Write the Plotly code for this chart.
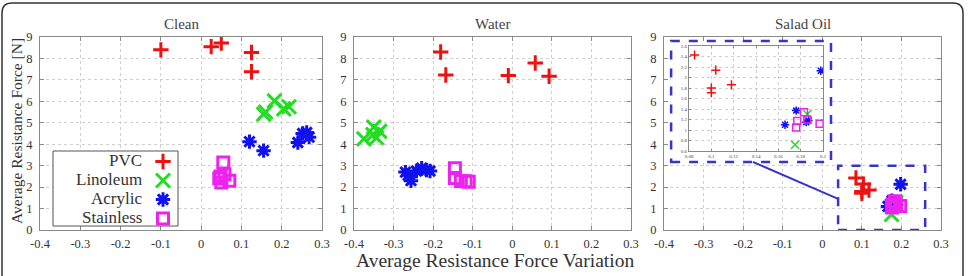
import plotly.graph_objects as go

# ---------------- data ----------------
series_names = ["PVC", "Linoleum", "Acrylic", "Stainless"]
panel_titles = ["Clean", "Water", "Salad Oil"]
x_title = "Average Resistance Force Variation"
y_title = "Average Resistance Force [N]"
x_ticks = [-0.4, -0.3, -0.2, -0.1, 0, 0.1, 0.2, 0.3]
x_tick_labels = ["-0.4", "-0.3", "-0.2", "-0.1", "0", "0.1", "0.2", "0.3"]
y_ticks = [0, 1, 2, 3, 4, 5, 6, 7, 8, 9]
inset_x_ticks = [0.08, 0.1, 0.12, 0.14, 0.16, 0.18, 0.2]
inset_x_tick_labels = ["0.08", "0.1", "0.12", "0.14", "0.16", "0.18", "0.2"]
inset_y_ticks = [0.6, 0.8, 1.0, 1.2, 1.4, 1.6, 1.8, 2.0, 2.2, 2.4, 2.6]
inset_y_tick_labels = ["0.6", "0.8", "1", "1.2", "1.4", "1.6", "1.8", "2", "2.2", "2.4", "2.6"]

clean_pvc_x = [-0.1, 0.025, 0.05, 0.125, 0.125]
clean_pvc_y = [8.4, 8.55, 8.72, 8.28, 7.38]
clean_lino_x = [0.155, 0.16, 0.182, 0.205, 0.218]
clean_lino_y = [5.4, 5.5, 6.02, 5.65, 5.75]
clean_acr_x = [0.12, 0.155, 0.24, 0.252, 0.262, 0.268]
clean_acr_y = [4.12, 3.7, 4.08, 4.5, 4.55, 4.33]
clean_sta_x = [0.055, 0.048, 0.05, 0.058, 0.07, 0.045]
clean_sta_y = [3.15, 2.5, 2.22, 2.6, 2.3, 2.4]

water_pvc_x = [-0.181, -0.168, -0.01, 0.058, 0.093]
water_pvc_y = [8.3, 7.23, 7.2, 7.79, 7.17]
water_lino_x = [-0.375, -0.35, -0.352, -0.335, -0.343]
water_lino_y = [4.25, 4.8, 4.45, 4.6, 4.3]
water_acr_x = [-0.27, -0.263, -0.256, -0.242, -0.229, -0.217, -0.208]
water_acr_y = [2.7, 2.55, 2.3, 2.75, 2.88, 2.8, 2.75]
water_sta_x = [-0.145, -0.145, -0.13, -0.118, -0.11]
water_sta_y = [2.88, 2.42, 2.28, 2.27, 2.25]

oil_pvc_x = [0.085, 0.104, 0.1, 0.1, 0.118]
oil_pvc_y = [2.43, 2.14, 1.8, 1.71, 1.86]
oil_lino_x = [0.175, 0.186]
oil_lino_y = [0.72, 1.3]
oil_acr_x = [0.166, 0.176, 0.185, 0.187, 0.198]
oil_acr_y = [1.1, 1.37, 1.15, 1.18, 2.13]
oil_sta_x = [0.176, 0.177, 0.183, 0.186, 0.197]
oil_sta_y = [1.05, 1.17, 1.34, 1.2, 1.12]

# zoom region (data coords of Salad Oil panel) and inset box
zoom_box = dict(x0=0.04, x1=0.26, y0=0.0, y1=3.0)
inset_box = dict(x0=-0.382, x1=0.022, y0=3.17, y1=8.81)
connector = dict(x0=-0.175, y0=3.17, x1=0.04, y1=1.45)

# ---------------- styles ----------------
W, H = 969, 276
ML, MR, MT, MB = 40, 28, 37, 46
PW, PH = W - ML - MR, H - MT - MB
FONT = "Liberation Serif, Times New Roman, serif"
colors = ["#ee1111", "#22dd22", "#1111ee", "#ee22ee"]
symbols = ["cross-thin", "x-thin", "asterisk", "square-open"]
sizes = [11, 14, 12, 11]
inset_sizes = [6.5, 8, 7, 7]
GRID = "#cfcfcf"
AX = "#8a8a8a"
BOXC = "#3535c8"


def px2paper_x(px):
    return (px - ML) / PW


def px2paper_y(py):
    return (H - MB - py) / PH


panels = [
    [(clean_pvc_x, clean_pvc_y), (clean_lino_x, clean_lino_y),
     (clean_acr_x, clean_acr_y), (clean_sta_x, clean_sta_y)],
    [(water_pvc_x, water_pvc_y), (water_lino_x, water_lino_y),
     (water_acr_x, water_acr_y), (water_sta_x, water_sta_y)],
    [(oil_pvc_x, oil_pvc_y), (oil_lino_x, oil_lino_y),
     (oil_acr_x, oil_acr_y), (oil_sta_x, oil_sta_y)],
]
domains = [(40, 322), (354, 631), (664, 941)]

fig = go.Figure()

for p, data in enumerate(panels):
    sfx = "" if p == 0 else str(p + 1)
    for i, (xs, ys) in enumerate(data):
        fig.add_trace(go.Scatter(
            x=xs, y=ys, mode="markers", name=series_names[i],
            showlegend=(p == 0),
            xaxis="x" + sfx, yaxis="y" + sfx,
            marker=dict(symbol=symbols[i], size=sizes[i], color=colors[i],
                        line=dict(width=3, color=colors[i])),
        ))

# inset traces (Salad Oil data, zoomed)
for i, (xs, ys) in enumerate(panels[2]):
    fig.add_trace(go.Scatter(
        x=xs, y=ys, mode="markers", showlegend=False,
        xaxis="x4", yaxis="y4",
        marker=dict(symbol=symbols[i], size=inset_sizes[i], color=colors[i],
                    line=dict(width=1.5, color=colors[i])),
    ))

axis_common = dict(showgrid=True, gridcolor=GRID, griddash="dot", gridwidth=1,
                   showline=True, linecolor=AX, linewidth=1, mirror="ticks",
                   ticks="inside", ticklen=4, tickcolor=AX, zeroline=False,
                   tickfont=dict(family=FONT, size=12.5, color="#333"))

layout = dict(width=W, height=H, margin=dict(l=ML, r=MR, t=MT, b=MB),
              paper_bgcolor="white", plot_bgcolor="white",
              font=dict(family=FONT, color="#333"))

for p, (a, b) in enumerate(domains):
    sfx = "" if p == 0 else str(p + 1)
    dom = [px2paper_x(a), px2paper_x(b)]
    layout["xaxis" + sfx] = dict(axis_common, domain=dom, range=[-0.4, 0.3],
                                 tickvals=x_ticks, ticktext=x_tick_labels,
                                 anchor="y" + sfx, ticklabelstandoff=2)
    layout["yaxis" + sfx] = dict(axis_common, domain=[0, 1], range=[0, 9],
                                 tickvals=y_ticks, anchor="x" + sfx,
                                 ticklabelstandoff=4)

# inset axes
inset_common = dict(axis_common)
inset_common.update(tickfont=dict(family=FONT, size=5, color="#444"), ticklen=2)
layout["xaxis4"] = dict(inset_common, domain=[px2paper_x(689), px2paper_x(823)],
                        range=[0.08, 0.2], tickvals=inset_x_ticks,
                        ticktext=inset_x_tick_labels, anchor="y4")
layout["yaxis4"] = dict(inset_common, domain=[px2paper_y(151), px2paper_y(46)],
                        range=[0.6, 2.6], tickvals=inset_y_ticks,
                        ticktext=inset_y_tick_labels, anchor="x4")

# legend: symbols only (gnuplot style, text drawn right-aligned to their left)
LEG_L, LEG_R, LEG_T, LEG_B = 53, 178, 151, 226
layout["legend"] = dict(x=px2paper_x(143), y=px2paper_y(147), xanchor="left",
                        yanchor="top", bgcolor="rgba(0,0,0,0)",
                        borderwidth=0, font=dict(family=FONT, size=1,
                                                 color="rgba(0,0,0,0)"),
                        tracegroupgap=0, itemwidth=30)

annotations = []
for p, (a, b) in enumerate(domains):
    annotations.append(dict(text=panel_titles[p], xref="paper", yref="paper",
                            x=px2paper_x((a + b) / 2), y=px2paper_y(24),
                            showarrow=False, xanchor="center", yanchor="middle",
                            font=dict(family=FONT, size=15, color="#444")))
annotations.append(dict(text=y_title, xref="paper", yref="paper",
                        x=px2paper_x(16), y=px2paper_y(131), textangle=-90,
                        showarrow=False, xanchor="center", yanchor="middle",
                        font=dict(family=FONT, size=15.5, color="#333")))
annotations.append(dict(text=x_title, xref="paper", yref="paper",
                        x=px2paper_x(495), y=px2paper_y(260),
                        showarrow=False, xanchor="center", yanchor="middle",
                        font=dict(family=FONT, size=19.5, color="#333")))
row_y = [160, 179, 198, 217]
for i, name in enumerate(series_names):
    annotations.append(dict(text=name, xref="paper", yref="paper",
                            x=px2paper_x(144), y=px2paper_y(row_y[i]),
                            showarrow=False, xanchor="right", yanchor="middle",
                            font=dict(family=FONT, size=17, color="#333")))
layout["annotations"] = annotations

shapes = []
# white backing for inset box (hides Salad Oil grid)
shapes.append(dict(type="rect", xref="x3", yref="y3", layer="between",
                   fillcolor="white", line=dict(width=0), **inset_box))
shapes.append(dict(type="rect", xref="x3", yref="y3", layer="above",
                   line=dict(color=BOXC, width=2.5, dash="dash"), **inset_box))
shapes.append(dict(type="rect", xref="x3", yref="y3", layer="above",
                   line=dict(color=BOXC, width=2.5, dash="dash"), **zoom_box))
shapes.append(dict(type="line", xref="x3", yref="y3", layer="above",
                   line=dict(color=BOXC, width=2), **connector))
# legend box
shapes.append(dict(type="rect", xref="paper", yref="paper", layer="above",
                   x0=px2paper_x(LEG_L), x1=px2paper_x(LEG_R),
                   y0=px2paper_y(LEG_B), y1=px2paper_y(LEG_T),
                   fillcolor="white", line=dict(color="#555", width=1)))

# rounded outer frame
L, R, T, B, rad = 2, 963, 3, 300, 10
path = (f"M {px2paper_x(L)},{px2paper_y(B)} "
        f"L {px2paper_x(L)},{px2paper_y(T + rad)} "
        f"Q {px2paper_x(L)},{px2paper_y(T)} {px2paper_x(L + rad)},{px2paper_y(T)} "
        f"L {px2paper_x(R - rad)},{px2paper_y(T)} "
        f"Q {px2paper_x(R)},{px2paper_y(T)} {px2paper_x(R)},{px2paper_y(T + rad)} "
        f"L {px2paper_x(R)},{px2paper_y(B)}")
shapes.append(dict(type="path", xref="paper", yref="paper", path=path,
                   line=dict(color="#333", width=1.5), layer="above"))
layout["shapes"] = shapes

fig.update_layout(**layout)
fig.write_html("out.html")
